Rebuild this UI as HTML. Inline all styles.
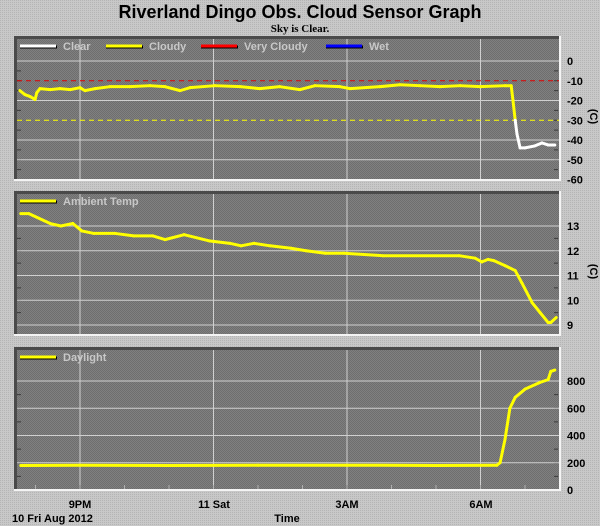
<!DOCTYPE html>
<html><head><meta charset="utf-8">
<style>
html,body{margin:0;padding:0;}
body{width:600px;height:526px;overflow:hidden;background:#c4c4c4;font-family:"Liberation Sans",sans-serif;}
svg{display:block;}
</style></head>
<body>
<svg id="chart" width="600" height="526" viewBox="0 0 600 526" xmlns="http://www.w3.org/2000/svg">
<defs>
<pattern id="dots" width="2" height="2" patternUnits="userSpaceOnUse"><rect width="2" height="2" fill="#c8c8c8"/><rect width="1" height="1" fill="#b4b4b4"/></pattern>
<pattern id="pdots" width="2" height="2" patternUnits="userSpaceOnUse"><rect width="2" height="2" fill="#808080"/><rect width="1" height="1" fill="#6e6e6e"/><rect x="1" y="1" width="1" height="1" fill="#6e6e6e"/></pattern>
</defs>
<rect width="600" height="526" fill="url(#dots)"/>
<text x="300" y="18" text-anchor="middle" font-size="18" font-weight="bold" fill="#000">Riverland Dingo Obs. Cloud Sensor Graph</text>
<text x="300" y="32" text-anchor="middle" font-size="11" font-weight="bold" font-family="Liberation Serif, serif" fill="#000">Sky is Clear.</text>
<g id="layer"></g>
<text x="80" y="508" text-anchor="middle" font-size="11" font-weight="bold">9PM</text>
<text x="214" y="508" text-anchor="middle" font-size="11" font-weight="bold">11 Sat</text>
<text x="347" y="508" text-anchor="middle" font-size="11" font-weight="bold">3AM</text>
<text x="481" y="508" text-anchor="middle" font-size="11" font-weight="bold">6AM</text>
<text x="12" y="522" font-size="11" font-weight="bold">10 Fri Aug 2012</text>
<text x="287" y="522" text-anchor="middle" font-size="11" font-weight="bold">Time</text>
</svg>
<script>
// hours relative to 9PM
const cloudTimes=[-1.35,-1.24,-1.12,-1.01,-0.97,-0.90,-0.67,-0.45,-0.22,0,0.11,0.34,0.67,1.12,1.57,1.91,2.25,2.47,3.03,3.60,4.04,4.49,4.94,5.28,5.84,6.07,6.74,7.19,7.64,8.09,8.54,8.99,9.55,9.69,9.73,9.78,9.82,9.89,10.0,10.22,10.38,10.52,10.67];
const cloudValues=[-15,-17,-18,-19.5,-16,-14,-14.5,-14,-14.5,-13.5,-15,-14,-13,-13,-12.5,-13,-15,-13.5,-12.5,-13,-14,-13,-14.5,-12.5,-13,-14,-13,-12,-12.5,-13,-12.5,-13,-12.5,-12.5,-20,-30,-37,-44,-44,-43,-41.5,-42.5,-42.5];
const ambTimes=[-1.33,-1.15,-0.67,-0.43,-0.16,0.04,0.31,0.79,1.21,1.64,1.91,2.34,2.90,3.37,3.62,3.91,4.27,4.74,5.08,5.51,5.93,6.81,8.52,8.88,9.03,9.17,9.30,9.55,9.78,9.93,10.16,10.34,10.52,10.58,10.70];
const ambValues=[13.5,13.5,13.1,13.0,13.1,12.8,12.7,12.7,12.6,12.6,12.45,12.65,12.4,12.3,12.2,12.3,12.2,12.1,12.0,11.9,11.9,11.8,11.8,11.7,11.55,11.65,11.6,11.4,11.2,10.7,9.9,9.5,9.1,9.1,9.3];
const dayTimes=[-1.33,0,2,4,6,8,9.37,9.44,9.55,9.66,9.78,10.0,10.34,10.52,10.58,10.67];
const dayValues=[180,182,180,182,182,180,182,200,370,600,680,740,790,810,870,880];
const cloudTicks=[0,-10,-20,-30,-40,-50,-60];
const ambTicks=[13,12,11,10,9];
const dayTicks=[800,600,400,200,0];
const timeGrid=[0,3,6,9];

const NS='http://www.w3.org/2000/svg';
const layer=document.getElementById('layer');
function mk(tag,attrs,parent){const e=document.createElementNS(NS,tag);for(const k in attrs)e.setAttribute(k,attrs[k]);(parent||layer).appendChild(e);return e;}
const X0=80, PXH=44.5;
function xs(h){return X0+h*PXH;}

const panels=[
 {top:36,bottom:181,v0:0,y0:61,v1:-60,y1:179.5,ticks:cloudTicks,name:'cloud-panel',minor:5},
 {top:191,bottom:336,v0:13,y0:226,v1:9,y1:325,ticks:ambTicks,name:'ambient-panel',minor:0.5},
 {top:347,bottom:491,v0:800,y0:381,v1:0,y1:490,ticks:dayTicks,name:'daylight-panel',minor:100}
];
panels.forEach(p=>{p.ys=v=>p.y0+(v-p.v0)*(p.y1-p.y0)/(p.v1-p.v0);});

panels.forEach((p,i)=>{
 const g=mk('g',{});
 
 
 const bg=mk('rect',{x:14,y:p.top,width:546,height:p.bottom-p.top,fill:'url(#pdots)'},g);
 
 
 mk('rect',{x:14,y:p.top,width:546,height:3,fill:'#4a4a4a'},g);
 mk('rect',{x:14,y:p.top,width:3,height:p.bottom-p.top,fill:'#4a4a4a'},g);
 mk('rect',{x:14,y:p.bottom-2,width:547,height:2,fill:'#f4f4f4'},g);
 mk('rect',{x:559,y:p.top,width:2,height:p.bottom-p.top,fill:'#f4f4f4'},g);
 timeGrid.forEach(h=>{
  const l=mk('line',{x1:xs(h),x2:xs(h),y1:p.top+3,y2:p.bottom-2,stroke:'#d0d0d0','stroke-width':1},g);
  
  
 });
 for(let h=-1;h<=10;h++){ if(i===2){mk('line',{x1:xs(h),x2:xs(h),y1:p.bottom-6,y2:p.bottom-2,stroke:'#b0b0b0'},g);} }
 const lo=Math.min(p.v0,p.v1),hi=Math.max(p.v0,p.v1);
 for(let v=lo;v<=hi+1e-9;v+=p.minor){const y=p.ys(v);if(y>p.top+3&&y<p.bottom-2){mk('line',{x1:17,x2:21,y1:y,y2:y,stroke:'#3a3a3a'},g);mk('line',{x1:554,x2:558,y1:y,y2:y,stroke:'#3a3a3a'},g);}}
 p.ticks.forEach(v=>{
  const y=p.ys(v);
  let stroke='#d0d0d0',dash=null;
  if(i===0&&v===-10){stroke='#e00000';dash='5,4';}
  if(i===0&&v===-30){stroke='#ffff00';dash='5,4';}
  if(y<p.bottom-3){
   const l=mk('line',{x1:17,x2:559,y1:y,y2:y,stroke:stroke,'stroke-width':1},g);
   if(dash)l.setAttribute('stroke-dasharray',dash);
   
   
  }
  const t=mk('text',{x:567,y:y+4,'font-size':11,'font-weight':'bold',fill:'#000'},g);
  t.textContent=String(v);
  
  
 });
 if(i<2){
  const t=mk('text',{x:590,y:(p.top+p.bottom)/2+8,'font-size':11,'font-weight':'bold',transform:'rotate(90 590 '+((p.top+p.bottom)/2+8)+')','text-anchor':'middle'},g);
  t.textContent='(C)';
  
  
 }
});

function legend(x,y,color,label){
 const g=mk('g',{});
 
 
 mk('line',{x1:x,x2:x+37,y1:y+1,y2:y+1,stroke:'#000','stroke-width':3},g);
 mk('line',{x1:x,x2:x+36,y1:y,y2:y,stroke:color,'stroke-width':3},g);
 const t=mk('text',{x:x+43,y:y+4,'font-size':11,'font-weight':'bold',fill:'#c8c8c8'},g);
 t.textContent=label;
}
legend(20,46,'#ffffff','Clear');
legend(106,46,'#ffff00','Cloudy');
legend(201,46,'#ff0000','Very Cloudy');
legend(326,46,'#0000ff','Wet');
legend(20,201,'#ffff00','Ambient Temp');
legend(20,357,'#ffff00','Daylight');

function series(p,times,vals,name,colorFn){
 const g=mk('g',{});
 
 
 for(let k=0;k<times.length-1;k++){
  const s=mk('line',{x1:xs(times[k]),y1:p.ys(vals[k]),x2:xs(times[k+1]),y2:p.ys(vals[k+1]),stroke:colorFn(vals[k],vals[k+1]),'stroke-width':3,'stroke-linecap':'round'},g);
  
  
 }
}
series(panels[0],cloudTimes,cloudValues,'sky-temp-line',(a,b)=>(Math.min(a,b)<-36?'#ffffff':'#ffff00'));
series(panels[1],ambTimes,ambValues,'ambient-temp-line',()=>'#ffff00');
series(panels[2],dayTimes,dayValues,'daylight-line',()=>'#ffff00');
</script>
</body></html>
